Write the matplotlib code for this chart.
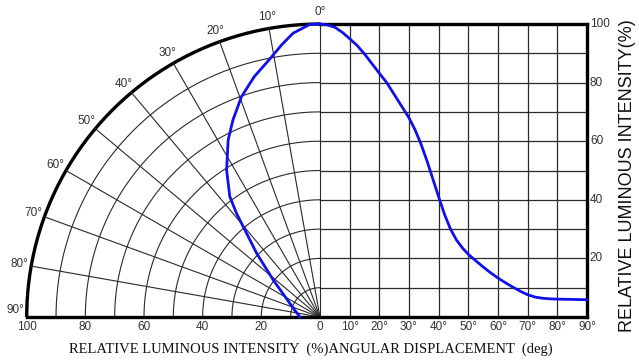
import matplotlib
matplotlib.use("Agg")
import matplotlib.pyplot as plt
import numpy as np

# 右側: 角度 vs 相対光度
ang_deg = [0, 2.5, 5, 7.5, 10, 12.5, 15, 17.5, 20, 22.5, 25, 27.5, 30, 32, 34, 36, 38, 40,
           42, 44, 46, 48, 50, 52.5, 55, 57.5, 60, 62.5, 65, 67.5, 70, 72.5, 75, 77.5, 80, 85, 90]
ang_int = [100, 99.7, 98.9, 97.2, 95, 92.7, 89.8, 86.5, 83.2, 80, 76, 72, 68, 64, 59.2, 53.5, 47.3, 41,
           35, 30, 26.3, 23.6, 21.4, 19.2, 17.1, 15.1, 13.3, 11.7, 10.2, 8.8, 7.6, 6.8, 6.4, 6.2, 6.1, 6.0, 5.9]

# 左側: 極座標の配光曲線
pol_deg = [0, 2, 5.4, 8, 10.9, 15.3, 19.6, 23.8, 27.4, 32.4, 36.8, 38.8, 44.8, 51.6, 65.5, 75.4, 90]
pol_r = [100, 99.9, 97.3, 93.8, 89.8, 85.0, 79.8, 73.5, 68.0, 59.4, 51.3, 45.4, 30.6, 20.3, 11.3, 8.8, 6.8]

ring_r = [10, 20, 30, 40, 50, 60, 70, 80, 90]
spoke_deg = [10, 20, 30, 40, 50, 60, 70, 80]
angle_labels = ["0°", "10°", "20°", "30°", "40°", "50°", "60°", "70°", "80°", "90°"]
bottom_left_ticks = [100, 80, 60, 40, 20, 0]
bottom_right_ticks = [10, 20, 30, 40, 50, 60, 70, 80, 90]
right_ticks = [20, 40, 60, 80, 100]

DEG_W = 1.012  # 右側の1度あたりの横幅
XR = 90 * DEG_W
GRID = "#2a2a2a"
BLUE = "#1010e8"
TICK_FONT = "Liberation Sans"

W, H = 639, 363
fig = plt.figure(figsize=(W / 100, H / 100), dpi=100)
x0, x1, ytop, ybot = 26.7, 587, 24, 317
ax = fig.add_axes([x0 / W, 1 - ybot / H, (x1 - x0) / W, (ybot - ytop) / H])
ax.set_xlim(-100, XR)
ax.set_ylim(0, 100)
ax.axis("off")

t = np.radians(np.linspace(0, 90, 200))
for r in ring_r:
    ax.plot(-r * np.sin(t), r * np.cos(t), color=GRID, lw=0.8)
ax.plot(-100 * np.sin(t), 100 * np.cos(t), color="black", lw=2.4, clip_on=False,
        solid_capstyle="butt")
for d in spoke_deg:
    a = np.radians(d)
    ax.plot([0, -100 * np.sin(a)], [0, 100 * np.cos(a)], color=GRID, lw=0.8)
ax.plot([0, 0], [0, 100], color=GRID, lw=0.8)

# 右側の格子
for d in range(10, 90, 10):
    ax.plot([d * DEG_W, d * DEG_W], [0, 100], color=GRID, lw=0.9)
for v in range(10, 100, 10):
    ax.plot([0, XR], [v, v], color=GRID, lw=0.9)
ax.plot([0, XR], [100, 100], color="black", lw=2.4, clip_on=False)
ax.plot([XR, XR], [0, 100], color="black", lw=2.4, clip_on=False)
ax.plot([-100, XR], [0, 0], color="black", lw=2.4, clip_on=False)

# 曲線
pa = np.radians(pol_deg)
pr = np.array(pol_r)
ax.plot(-pr * np.sin(pa), pr * np.cos(pa), color=BLUE, lw=2.0, clip_on=False,
        solid_joinstyle="round")
ax.plot(np.array(ang_deg) * DEG_W, ang_int, color=BLUE, lw=2.0, clip_on=False,
        solid_joinstyle="round")

# 角度ラベル
for i, lab in enumerate(angle_labels):
    a = np.radians(i * 10)
    lx, ly = -104 * np.sin(a), 104 * np.cos(a)
    if i == 9:
        ly += 2.5
    ax.text(lx, ly, lab, ha="center", va="center", fontsize=8.5, color="#333333",
            family=TICK_FONT, clip_on=False)

for v in bottom_left_ticks:
    ax.text(-v, -3.5, str(v), ha="center", va="center", fontsize=8.5, color="#333333",
            family=TICK_FONT, clip_on=False)
for v in bottom_right_ticks:
    ax.text(v * DEG_W, -3.5, f"{v}°", ha="center", va="center", fontsize=8.5,
            color="#333333", family=TICK_FONT, clip_on=False)
for v in right_ticks:
    ax.text(XR + 1, v, str(v), ha="left", va="center", fontsize=8.5, color="#333333",
            family=TICK_FONT, clip_on=False)

fig.text(311 / W, 1 - 349 / H, "RELATIVE LUMINOUS INTENSITY  (%)ANGULAR DISPLACEMENT  (deg)",
         ha="center", va="center", fontsize=10.5, family="Liberation Serif", color="#111111")
fig.text(628 / W, 1 - 176 / H, "RELATIVE LUMINOUS INTENSITY(%)", rotation=90,
         ha="center", va="center", fontsize=13, family=TICK_FONT, color="#111111")

fig.savefig("out.png", dpi=100)
